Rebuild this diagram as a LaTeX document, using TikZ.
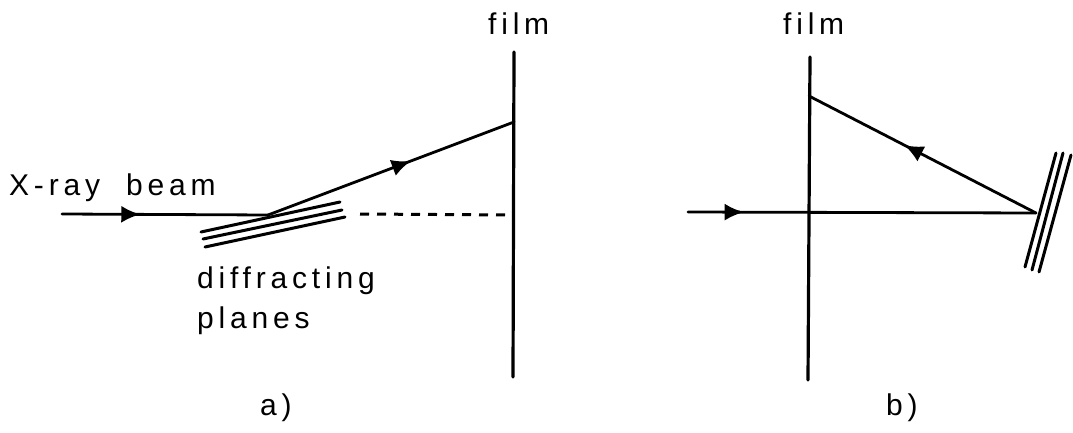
\documentclass[tikz,border=0pt]{standalone}
\usepackage{fontspec}
\setmainfont[LetterSpace=16]{Liberation Sans}
\usetikzlibrary{decorations.markings,arrows.meta}
\tikzset{
  every node/.style = {font=\fontsize{30}{30}\selectfont, inner sep=0pt},
  film/.style = {line width=3.2pt, line cap=round},
  ray/.style = {line width=2.8pt, line cap=round},
  plane/.style = {line width=3pt, line cap=round},
  dashline/.style = {line width=3pt, dash pattern=on 9pt off 8pt},
  flow/.style = {postaction={decorate}, decoration={markings, mark=at position #1 with {\arrow{Latex[length=19pt,width=17pt]}}}}
}
\begin{document}
\begin{tikzpicture}[x=1pt,y=-1pt]
  \useasboundingbox (0,0) rectangle (1073,433);
  \fill[white] (0,0) rectangle (1073,433);
  \node[anchor=base west] (filmA) at (488,35) {film};
  \node[anchor=base west] (filmB) at (783,35) {film};
  \node[anchor=base west] (beam) at (9,195) {X-ray\hspace{13pt} beam};
  \node[anchor=base west] (diffA) at (197,288) {diffracting};
  \node[anchor=base west] (diffB) at (197,328) {planes};
  \node[anchor=base west] (labelA) at (260,415) {a)};
  \node[anchor=base west] (labelB) at (886,415) {b)};
  \coordinate (a1) at (514,52);
  \coordinate (a2) at (513,377);
  \coordinate (a3) at (62,214);
  \coordinate (a4) at (268,215);
  \coordinate (a5) at (514,122);
  \coordinate (a6) at (513,215);
  \coordinate (a7) at (360,214);
  \draw[film] (a1) -- (a2);
  \draw[ray, flow=0.38] (a3) -- (a4);
  \draw[ray, flow=0.58] (a4) -- (a5);
  \draw[dashline] (a7) -- (a6);
  \draw[plane] (201,232) -- (340,202);
  \draw[plane] (203,239) -- (342,210);
  \draw[plane] (205,247) -- (345,217);
  \coordinate (b1) at (810,57);
  \coordinate (b2) at (808,380);
  \coordinate (b3) at (688,212);
  \coordinate (b4) at (1036,213);
  \coordinate (b5) at (809,96);
  \draw[film] (b1) -- (b2);
  \draw[ray, flow=0.16] (b3) -- (b4);
  \draw[ray, flow=0.58] (b4) -- (b5);
  \draw[plane] (1056,153) -- (1025,267);
  \draw[plane] (1063,153) -- (1032,270);
  \draw[plane] (1071,155) -- (1039,272);
\end{tikzpicture}
\end{document}
